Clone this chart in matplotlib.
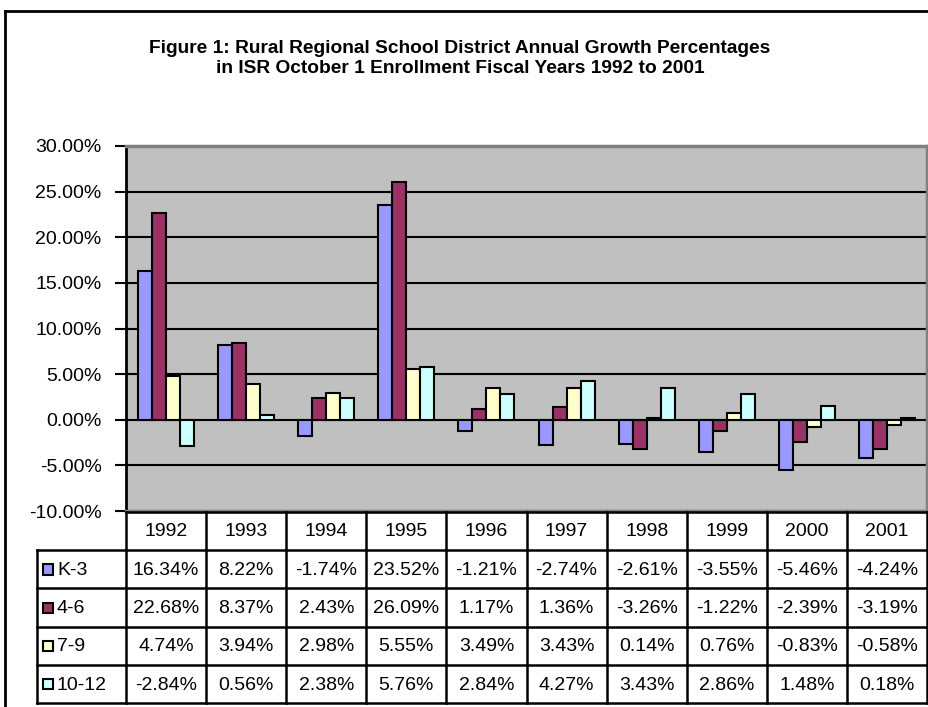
import matplotlib.pyplot as plt
from matplotlib.patches import Rectangle
from matplotlib.lines import Line2D
from matplotlib.ticker import FuncFormatter

plt.rcParams['font.family'] = ['Liberation Sans', 'DejaVu Sans']

years = ['1992', '1993', '1994', '1995', '1996', '1997', '1998', '1999', '2000', '2001']
grades = ['K-3', '4-6', '7-9', '10-12']
k3 = [16.34, 8.22, -1.74, 23.52, -1.21, -2.74, -2.61, -3.55, -5.46, -4.24]
g46 = [22.68, 8.37, 2.43, 26.09, 1.17, 1.36, -3.26, -1.22, -2.39, -3.19]
g79 = [4.74, 3.94, 2.98, 5.55, 3.49, 3.43, 0.14, 0.76, -0.83, -0.58]
g1012 = [-2.84, 0.56, 2.38, 5.76, 2.84, 4.27, 3.43, 2.86, 1.48, 0.18]
series = [k3, g46, g79, g1012]
colors = ['#9999FF', '#993366', '#FFFFCC', '#CCFFFF']

W, H = 929, 707
FS = 14
fig = plt.figure(figsize=(W / 100, H / 100), dpi=100)


def box(l, t, r, b):
    return [l / W, 1 - b / H, (r - l) / W, (b - t) / H]


# outer frame (right/bottom edges fall outside the image)
fig.add_artist(Line2D([5 / W, 1], [1 - 11 / H, 1 - 11 / H], color='black', lw=2))
fig.add_artist(Line2D([5 / W, 5 / W], [1 - 11 / H, 0], color='black', lw=2))

fig.text(460 / W, 1 - 53 / H,
         'Figure 1: Rural Regional School District Annual Growth Percentages',
         ha='center', va='baseline', fontsize=13.8, fontweight='bold')
fig.text(460 / W, 1 - 73 / H,
         'in ISR October 1 Enrollment Fiscal Years 1992 to 2001',
         ha='center', va='baseline', fontsize=13.8, fontweight='bold')

# bar chart
ax = fig.add_axes(box(126, 146, 927, 511))
ax.set_facecolor('#C0C0C0')
bw = 0.175
x = list(range(len(years)))
for i, (vals, c) in enumerate(zip(series, colors)):
    off = (i - 1.5) * bw
    ax.bar([xi + off for xi in x], vals, width=bw, color=c,
           edgecolor='black', linewidth=1.5, zorder=3)

ax.set_xlim(-0.5, len(years) - 0.5)
ax.set_ylim(-10, 30)
ax.set_yticks(range(-10, 31, 5))
ax.yaxis.set_major_formatter(FuncFormatter(lambda v, p: f'{v:.2f}%'))
ax.set_xticks([])
ax.tick_params(axis='y', direction='out', length=8, width=1.5, pad=9.5,
               labelsize=FS)
ax.yaxis.grid(True, color='black', lw=1.5)
ax.set_axisbelow(True)
for s in ['top', 'right', 'bottom']:
    ax.spines[s].set_color('#808080')
    ax.spines[s].set_linewidth(2.5)
ax.spines['left'].set_color('black')
ax.spines['left'].set_linewidth(2)

# data table below the plot, sharing the category positions
tab = fig.add_axes(box(126, 512, 927, 703))
tab.set_xlim(-0.5, len(years) - 0.5)
tab.set_ylim(5, 0)
tab.axis('off')
px = 1 / 80.1
xl = -0.5 - (126 - 37) * px
xr = len(years) - 0.5
lk = dict(color='black', lw=1.8, clip_on=False, solid_capstyle='projecting')

tab.plot([-0.5, xr], [0, 0], **lk)
for r in range(1, 6):
    tab.plot([xl, xr], [r, r], **lk)
for c in range(len(years) + 1):
    tab.plot([c - 0.5, c - 0.5], [0, 5], **lk)
tab.plot([xl, xl], [1, 5], **lk)

for c, yr in enumerate(years):
    tab.text(c, 0.52, yr, ha='center', va='center', fontsize=FS)
for r, (g, vals, col) in enumerate(zip(grades, series, colors)):
    yc = r + 1.5
    tab.add_patch(Rectangle((xl + 6 * px, yc - 0.13), 10 * px, 0.27,
                            facecolor=col, edgecolor='black', lw=1.5,
                            clip_on=False))
    tab.text(xl + 20 * px, yc + 0.03, g, ha='left', va='center', fontsize=FS)
    for c, v in enumerate(vals):
        tab.text(c, yc + 0.03, f'{v:.2f}%', ha='center', va='center',
                 fontsize=FS)

fig.savefig('out.png', dpi=100)
